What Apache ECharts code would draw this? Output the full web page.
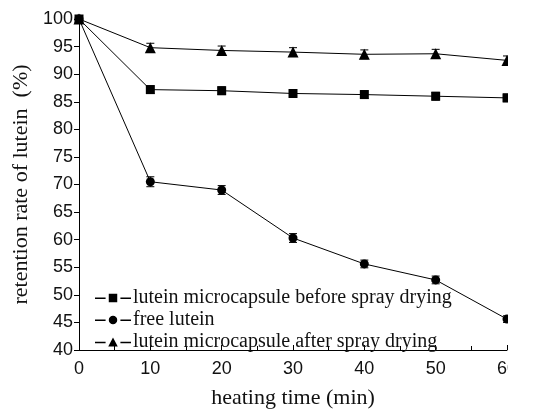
<!DOCTYPE html>
<html>
<head>
<meta charset="utf-8">
<script src="https://cdn.jsdelivr.net/npm/echarts@6/dist/echarts.min.js"></script>
<style>
  html, body { margin: 0; padding: 0; background: #fff; }
  #chart { width: 548px; height: 414px; }
</style>
</head>
<body>
<div id="chart"></div>
<script>
const times = [0, 10, 20, 30, 40, 50, 60];
const beforeSpray = [100, 87.2, 87.0, 86.5, 86.3, 86.0, 85.7];
const beforeErr = [0.4, 0.7, 0.7, 0.7, 0.7, 0.7, 0.7];
const freeLutein = [100, 70.5, 69.0, 60.3, 55.6, 52.7, 45.6];
const freeErr = [0.4, 0.9, 0.8, 0.8, 0.7, 0.7, 0.6];
const afterSpray = [100, 94.8, 94.3, 94.0, 93.6, 93.7, 92.5];
const afterErr = [0.4, 0.8, 0.8, 0.8, 0.8, 0.8, 0.8];

const names = [
  'lutein microcapsule before spray drying',
  'free lutein',
  'lutein microcapsule after spray drying',
];

// legend icons: dash, marker, dash
const legendIcons = [
  'path://M0,4h10v1.4h-10z M13,0.5h8v8h-8z M24,4h10v1.4h-10z',
  'path://M0,4h10v1.4h-10z M17,0.5a4,4 0 1,0 0.01,0z M24,4h10v1.4h-10z',
  'path://M0,4h10v1.4h-10z M17,0L21.5,8.5h-9z M24,4h10v1.4h-10z',
];

const myChart = echarts.init(document.getElementById('chart'));

function pairs(vals) {
  return times.map((t, i) => [t, vals[i]]);
}
function errData(vals, errs) {
  return times.map((t, i) => [t, vals[i] - errs[i], vals[i] + errs[i]]);
}

function renderErr(params, api) {
  const x = api.value(0);
  const lo = api.coord([x, api.value(1)]);
  const hi = api.coord([x, api.value(2)]);
  const hw = 4;
  const style = { stroke: '#000', lineWidth: 1 };
  return {
    type: 'group',
    children: [
      { type: 'line', shape: { x1: lo[0], y1: lo[1], x2: hi[0], y2: hi[1] }, style },
      { type: 'line', shape: { x1: lo[0] - hw, y1: lo[1], x2: lo[0] + hw, y2: lo[1] }, style },
      { type: 'line', shape: { x1: hi[0] - hw, y1: hi[1], x2: hi[0] + hw, y2: hi[1] }, style },
    ],
  };
}

function lineSeries(name, vals, symbol, size) {
  return {
    type: 'line',
    name,
    data: pairs(vals),
    symbol,
    symbolSize: size,
    showAllSymbol: true,
    clip: false,
    lineStyle: { color: '#000', width: 1 },
    itemStyle: { color: '#000' },
    z: 3,
  };
}

function errSeries(vals, errs) {
  return {
    type: 'custom',
    name: 'err',
    data: errData(vals, errs),
    renderItem: renderErr,
    encode: { x: 0, y: [1, 2] },
    clip: false,
    z: 2,
    silent: true,
  };
}

const option = {
  animation: false,
  backgroundColor: '#fff',
  grid: { left: 79, right: 41, top: 19, bottom: 61 },
  legend: {
    data: names.map((n, i) => ({ name: n, icon: legendIcons[i] })),
    orient: 'vertical',
    left: 90,
    top: 283,
    itemWidth: 36,
    itemHeight: 9,
    itemGap: 2,
    textStyle: { fontFamily: 'Liberation Serif', fontSize: 20, color: '#111', padding: [0, 0, 0, -3] },
  },
  xAxis: {
    type: 'value',
    min: 0,
    max: 60,
    interval: 10,
    name: 'heating time (min)',
    nameLocation: 'middle',
    nameGap: 37,
    nameTextStyle: { fontFamily: 'Liberation Serif', fontSize: 22, color: '#111' },
    axisLine: { lineStyle: { color: '#000', width: 1 } },
    axisTick: { inside: true, length: 5, lineStyle: { color: '#000' } },
    minorTick: { show: true, splitNumber: 2, length: 4, lineStyle: { color: '#000' } },
    axisLabel: { fontFamily: 'Liberation Sans', fontSize: 18, color: '#111', margin: 10 },
    splitLine: { show: false },
  },
  yAxis: {
    type: 'value',
    min: 40,
    max: 100,
    interval: 5,
    name: 'retention rate of lutein  (%)',
    nameLocation: 'middle',
    nameGap: 38,
    nameTextStyle: { fontFamily: 'Liberation Serif', fontSize: 22, color: '#111' },
    axisLine: { show: true, lineStyle: { color: '#000', width: 1 } },
    axisTick: { show: true, length: 5, lineStyle: { color: '#000' } },
    axisLabel: { fontFamily: 'Liberation Sans', fontSize: 18, color: '#111', margin: 6 },
    splitLine: { show: false },
  },
  graphic: [{
    type: 'rect',
    right: 0,
    top: 0,
    shape: { width: 40, height: 414 },
    style: { fill: '#fff' },
    z: 100,
  }],
  series: [
    errSeries(beforeSpray, beforeErr),
    errSeries(freeLutein, freeErr),
    errSeries(afterSpray, afterErr),
    lineSeries(names[0], beforeSpray, 'rect', 9),
    lineSeries(names[1], freeLutein, 'circle', 9),
    lineSeries(names[2], afterSpray, 'triangle', 11),
  ],
};

myChart.setOption(option);
</script>
</body>
</html>
